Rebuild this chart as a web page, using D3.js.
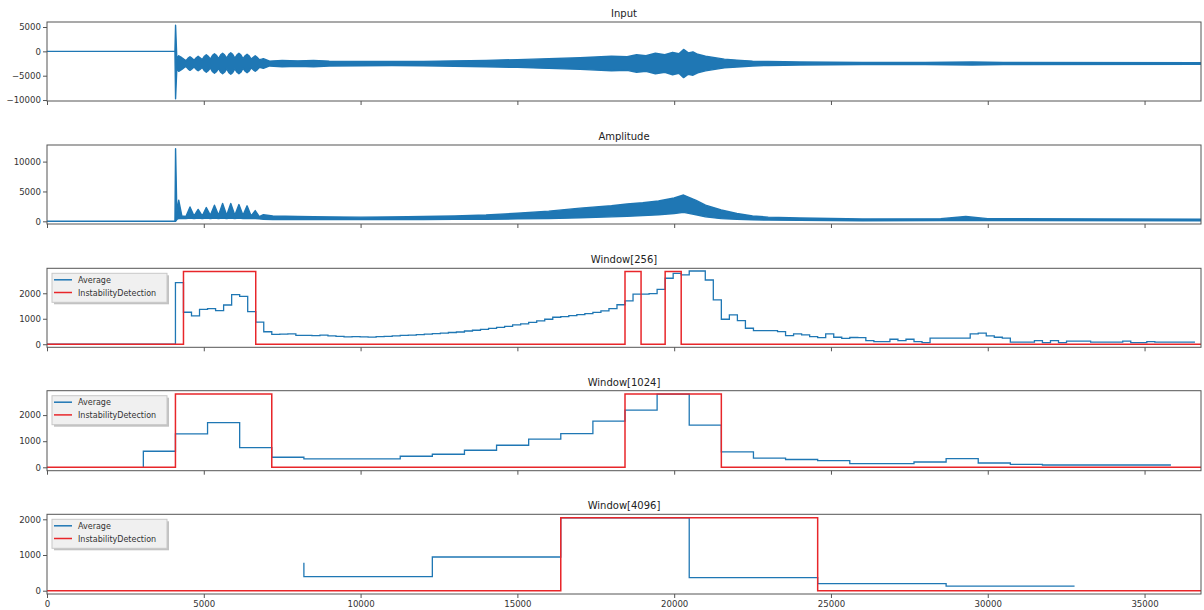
<!DOCTYPE html>
<html><head><meta charset="utf-8">
<script src="https://cdn.jsdelivr.net/npm/d3@7"></script>
<style>body{margin:0;background:#fff}svg text{font-family:"DejaVu Sans",sans-serif}</style>
</head><body><svg id="c" width="1204" height="610"></svg>
<script>
const X_MAX = 36800;
const xTicks = [0,5000,10000,15000,20000,25000,30000,35000];

// Input envelope (sample position, upper edge, lower edge)
const inX  = [0,4080,4100,4140,4200,4300,4360,4430,4500,4560,4620,4690,4760,4820,4880,4950,5020,5080,5140,5210,5280,5340,5400,5470,5540,5600,5660,5730,5800,5860,5920,5990,6060,6120,6180,6250,6320,6380,6440,6510,6580,6640,6700,6770,6840,6900,7100,7500,8000,8500,9000,10000,11000,12000,13000,14000,15000,16000,17000,18000,18500,18800,19100,19400,19700,19950,20150,20300,20450,20600,20750,21000,21300,21600,22000,22500,23000,24000,25000,26000,28000,29500,30500,36800];
const inHi = [0,0,5350,-1500,-900,-1300,-1600,-1900,-1400,-1100,-1400,-1800,-1300,-1000,-1300,-1700,-1000,-700,-1000,-1600,-800,-500,-800,-1500,-700,-400,-700,-1400,-600,-300,-600,-1400,-700,-400,-700,-1500,-900,-600,-900,-1600,-1200,-900,-1200,-1700,-1600,-1500,-2000,-1850,-1950,-1850,-2000,-2050,-2100,-2050,-1950,-1850,-1700,-1500,-1300,-1000,-1100,-700,-900,-400,-700,-200,-500,400,-300,-100,-600,-1000,-1300,-1600,-1800,-2000,-2100,-2200,-2250,-2300,-2300,-2200,-2300,-2350];
const inLo = [0,0,-9730,-3500,-4100,-3700,-3400,-3100,-3600,-3900,-3600,-3200,-3700,-4000,-3700,-3300,-4000,-4300,-4000,-3400,-4200,-4500,-4200,-3500,-4300,-4600,-4300,-3600,-4400,-4700,-4400,-3600,-4300,-4600,-4300,-3500,-4100,-4400,-4100,-3400,-3800,-4100,-3800,-3300,-3400,-3500,-3000,-3150,-3050,-3150,-3000,-2950,-2900,-2950,-3050,-3150,-3300,-3500,-3700,-4000,-3900,-4300,-4100,-4600,-4300,-4800,-4500,-5400,-4700,-4900,-4400,-4000,-3700,-3400,-3200,-3000,-2900,-2800,-2750,-2700,-2700,-2800,-2700,-2650];

// Amplitude envelope
const ampX  = [0,4080,4100,4140,4200,4300,4430,4560,4690,4820,4950,5080,5210,5340,5470,5600,5730,5860,5990,6120,6250,6380,6510,6640,6770,6900,7200,8000,9000,10000,11000,12000,13000,14000,15000,16000,17000,18000,18500,19000,19500,20000,20300,20700,21000,21500,22000,22500,23000,24000,26000,28500,29300,30000,36800];
const ampHi = [0,0,12170,1500,3550,900,800,2400,900,2000,900,2300,1000,2700,1000,3000,1000,3000,1000,2800,1000,2600,900,1800,800,1100,900,800,750,700,750,800,900,1050,1350,1700,2200,2600,2900,3100,3400,3900,4400,3500,2700,1900,1300,900,700,550,400,450,800,450,350];
const ampLo = [0,0,0,300,500,450,450,550,450,550,450,550,450,550,450,550,450,550,450,550,450,500,450,450,400,350,300,300,280,280,280,300,320,350,400,450,600,750,850,950,1100,1300,1500,1100,750,450,350,250,200,150,100,120,180,120,100];

// Window[256]: average per window (window k starts at k*256)
const avg256 = [0,0,0,0,0,0,0,0,0,0,0,0,0,0,0,0,
 2415,1255,1110,1372,1396,1320,1540,1945,1880,1280,870,490,385,400,410,345,
 350,340,360,330,310,290,300,290,280,300,310,330,350,360,380,400,
 420,440,460,480,520,550,580,620,660,700,760,800,860,920,980,1060,
 1080,1120,1160,1200,1250,1310,1400,1550,1700,1970,1970,1990,2150,2590,2780,2720,
 2875,2875,2520,1740,980,1150,925,627,533,533,533,494,337,404,365,300,
 259,404,275,230,265,259,141,102,102,196,141,196,102,63,240,240,
 240,240,240,404,433,325,275,240,80,80,80,141,63,141,63,120,
 120,120,80,80,80,80,120,63,63,102,80,80,80,80,80];
const det256X = [0,4352,6656,18432,18944,19712,20224,36800];
const det256Y = [0,0,2850,0,2850,0,2850,0];

// Window[1024]: step points (x = window end, y = average)
const avg1024X = [3072,4096,5120,6144,7168,8192,9216,10240,11264,12288,13312,14336,15360,16384,17408,18432,19456,20480,21504,22528,23552,24576,25600,26624,27648,28672,29696,30720,31744,32768,33792,34816,35840];
const avg1024Y = [0,615,1280,1715,754,385,320,320,320,423,500,654,846,1077,1292,1769,2192,2800,1615,588,355,300,254,138,138,204,331,165,115,88,88,88,88];
const det1024X = [0,4096,7168,18432,21504,36800];
const det1024Y = [0,0,2810,0,2810,0];

// Window[4096]
const avg4096X = [8192,12288,16384,20480,24576,28672,32768];
const avg4096Y = [784,392,944,2040,364,196,131];
const det4096X = [0,16384,24576,36800];
const det4096Y = [0,0,2040,0];

const BLUE = "#1f77b4", RED = "#e8262a", SPINE = "#555";
const svg = d3.select("#c");
const x = d3.scaleLinear().domain([0, X_MAX]).range([47, 1201]);
const fmt = d => String(d).replace("-", "\u2212");

const panels = [
  {title:"Input", top:22, bottom:101, dom:[-10200,6030], ticks:[-10000,-5000,0,5000]},
  {title:"Amplitude", top:145, bottom:224, dom:[-450,12780], ticks:[0,5000,10000]},
  {title:"Window[256]", top:268.3, bottom:347.3, dom:[-120,2980], ticks:[0,1000,2000], legend:true},
  {title:"Window[1024]", top:390.7, bottom:470.7, dom:[-130,2935], ticks:[0,1000,2000], legend:true},
  {title:"Window[4096]", top:514.3, bottom:594, dom:[-92,2140], ticks:[0,1000,2000], legend:true, xlabels:true}
];

panels.forEach((p, i) => {
  p.y = d3.scaleLinear().domain(p.dom).range([p.bottom, p.top]);
  const g = svg.append("g");
  p.g = g;
  svg.append("clipPath").attr("id","cl"+i).append("rect")
    .attr("x",47).attr("y",p.top).attr("width",1201-47).attr("height",p.bottom-p.top);
  p.plot = g.append("g").attr("clip-path","url(#cl"+i+")");
  const ya = g.append("g").attr("transform","translate(47,0)")
    .call(d3.axisLeft(p.y).tickValues(p.ticks).tickFormat(fmt).tickSize(4).tickPadding(2));
  const xa = g.append("g").attr("transform",`translate(0,${p.bottom})`)
    .call(d3.axisBottom(x).tickValues(xTicks).tickFormat(p.xlabels ? d=>d : ()=> "").tickSize(4).tickPadding(3));
  [ya, xa].forEach(a => {
    a.select(".domain").remove();
    a.selectAll("line").attr("stroke", SPINE);
    a.selectAll("text").attr("fill","#333").style("font-size","8.6px");
  });
  g.append("text").attr("x",(47+1201)/2).attr("y",p.top-5).attr("text-anchor","middle")
    .attr("fill","#222").style("font-size","10px").text(p.title);
});

function envelope(p, xs, hi, lo) {
  const data = xs.map((v,i)=>[v,hi[i],lo[i]]);
  p.plot.append("path").datum(data)
    .attr("d", d3.area().x(d=>x(d[0])).y0(d=>p.y(d[2])).y1(d=>p.y(d[1])))
    .attr("fill",BLUE).attr("stroke",BLUE).attr("stroke-width",1.4).attr("stroke-linejoin","round");
}
function step(p, xs, ys, color, w) {
  const data = xs.map((v,i)=>[v,ys[i]]);
  p.plot.append("path").datum(data)
    .attr("d", d3.line().x(d=>x(d[0])).y(d=>p.y(d[1])).curve(d3.curveStepBefore))
    .attr("fill","none").attr("stroke",color).attr("stroke-width",w);
}

envelope(panels[0], inX, inHi, inLo);
envelope(panels[1], ampX, ampHi, ampLo);

const w256X = [0].concat(avg256.map((v,k)=>(k+1)*256));
const w256Y = [avg256[0]].concat(avg256);
step(panels[2], w256X, w256Y, BLUE, 1.3);
step(panels[2], det256X, det256Y, RED, 1.5);
step(panels[3], avg1024X, avg1024Y, BLUE, 1.3);
step(panels[3], det1024X, det1024Y, RED, 1.5);
step(panels[4], avg4096X, avg4096Y, BLUE, 1.3);
step(panels[4], det4096X, det4096Y, RED, 1.5);

panels.forEach(p => {
  p.g.append("rect").attr("x",47).attr("y",p.top).attr("width",1201-47).attr("height",p.bottom-p.top)
    .attr("fill","none").attr("stroke",SPINE).attr("stroke-width",1);
  if (p.legend) {
    const lx = 52, ly = p.top + 5;
    const lg = p.g.append("g");
    lg.append("rect").attr("x",lx+2).attr("y",ly+2).attr("width",115).attr("height",29).attr("fill","#9a9a9a").attr("opacity",0.6);
    lg.append("rect").attr("x",lx).attr("y",ly).attr("width",115).attr("height",29).attr("fill","#f0f0f0").attr("stroke","#c8c8c8");
    [["Average",BLUE],["InstabilityDetection",RED]].forEach((e,j)=>{
      const yy = ly + 6.5 + j*12.7;
      lg.append("line").attr("x1",lx+2).attr("x2",lx+20).attr("y1",yy).attr("y2",yy).attr("stroke",e[1]).attr("stroke-width",1.5);
      lg.append("text").attr("x",lx+26).attr("y",yy+3).attr("fill","#333").style("font-size","8px").text(e[0]);
    });
  }
});
</script></body></html>
